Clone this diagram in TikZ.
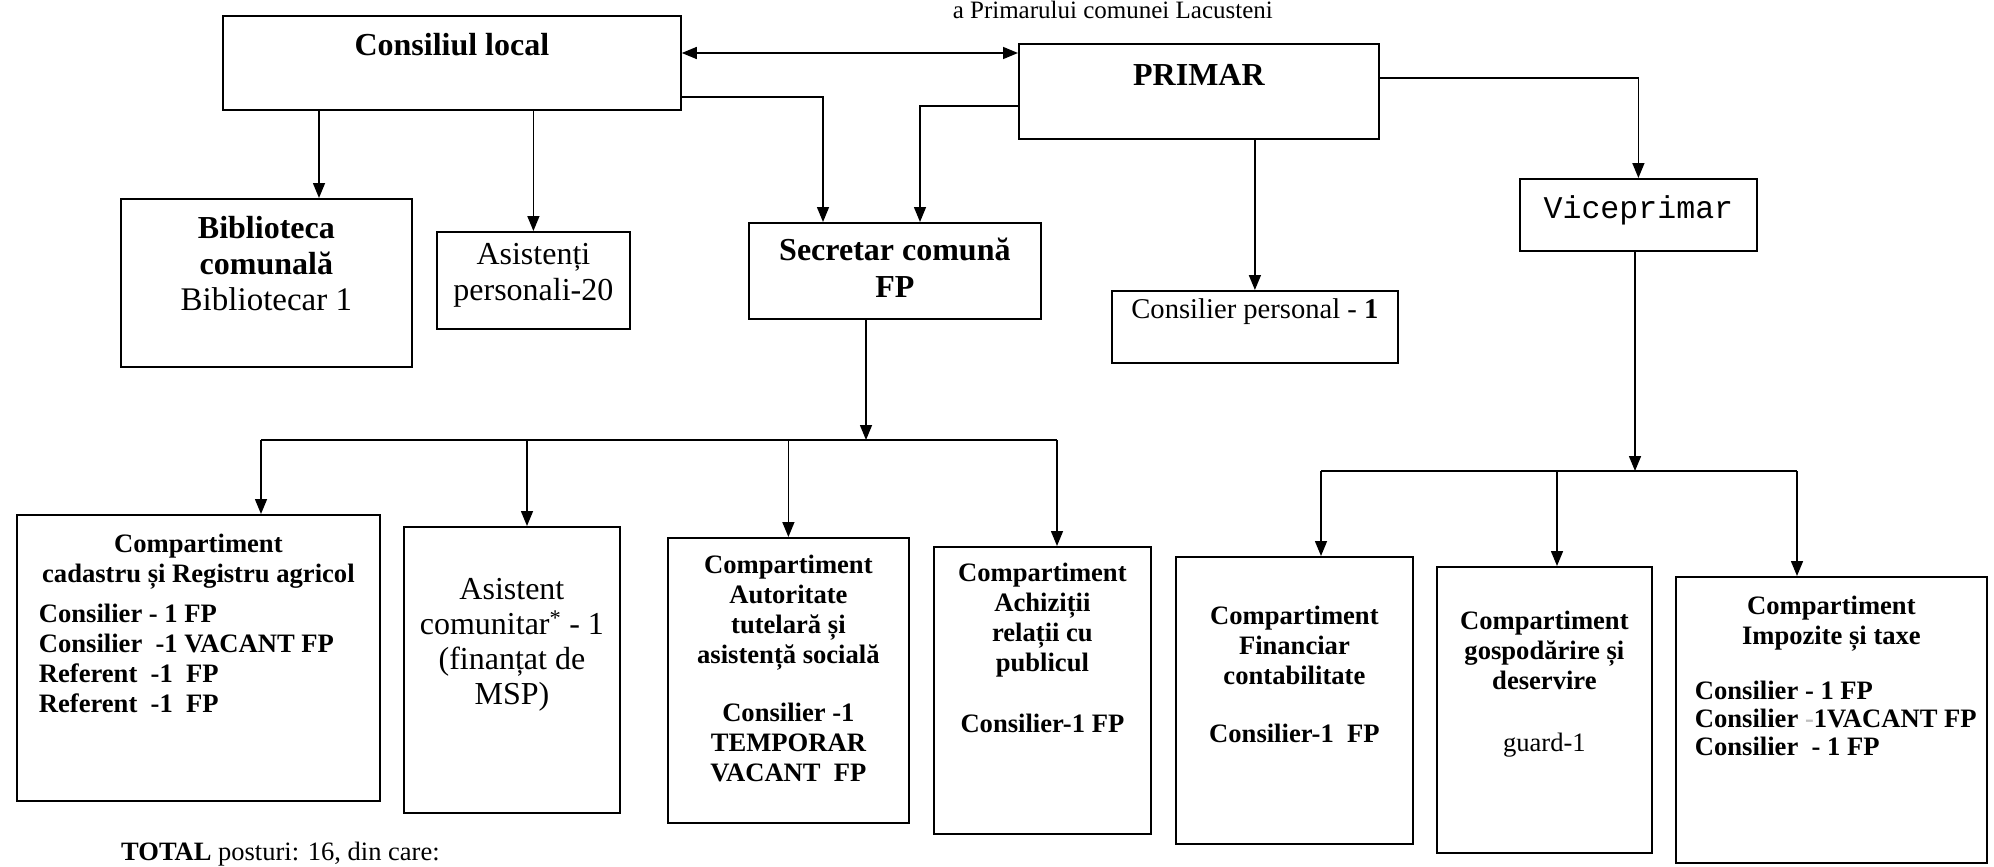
\documentclass[tikz,border=0pt]{standalone}
\usepackage{fontspec}
\setmainfont{Liberation Serif}
\setmonofont{Liberation Mono}
\usetikzlibrary{arrows.meta,calc}
\newcommand\boxtext[4]{\parbox[c][#1pt][t]{#2pt}{\vspace*{#3pt}#4}}
\newcommand\bodyb{\centering\bfseries\fontsize{26.6}{30}\selectfont}
\begin{document}
\begin{tikzpicture}[x=1pt,y=-1pt,
  box/.style={draw, line width=1.8pt, inner sep=0pt, anchor=north west},
  conn/.style={line width=1.5pt},
  arr/.style={conn, -{Triangle[length=15pt,width=12pt]}},
  darr/.style={conn, {Triangle[length=15pt,width=12pt]}-{Triangle[length=15pt,width=12pt]}},
  plain/.style={inner sep=0pt}
]
\useasboundingbox (0,0) rectangle (1994,867);

% title
\node[plain, anchor=base east, font=\fontsize{25}{30}\selectfont] (title) at (1273,19) {a Primarului comunei Lacusteni};

% upper level
\node[box] (cl) at (222,15) {\boxtext{94}{458}{17}{\centering\bfseries\fontsize{32}{36}\selectfont Consiliul local}};
\node[box] (prim) at (1018,43) {\boxtext{95}{360}{20}{\centering\bfseries\fontsize{32}{36}\selectfont PRIMAR}};

\node[box] (bib) at (120,198) {\boxtext{168}{291}{17}{\centering\fontsize{32}{36}\selectfont\textbf{Biblioteca}\\\textbf{comunală}\\{\fontsize{33}{36}\selectfont Bibliotecar 1}}};
\node[box] (asp) at (436,231) {\boxtext{97}{193}{11}{\centering\fontsize{32}{36}\selectfont Asistenți\\personali-20}};
\node[box] (sec) at (748,222) {\boxtext{96}{292}{15}{\centering\bfseries\fontsize{32}{37}\selectfont Secretar comună\\FP}};
\node[box] (cp) at (1111,290) {\boxtext{72}{286}{8}{\centering\fontsize{28.6}{32}\selectfont Consilier personal - \textbf{1}}};
\node[box] (vp) at (1519,178) {\boxtext{72}{237}{17}{\centering\ttfamily\fontsize{31.6}{36}\selectfont Viceprimar}};

% lower level
\node[box] (cad) at (16,514) {\boxtext{286}{363}{19}{\bodyb Compartiment\\cadastru și Registru agricol\par
  \vspace{10pt}\raggedright\leftskip=22pt Consilier - 1 FP\\Consilier~~-1 VACANT FP\\Referent~~-1~~FP\\Referent~~-1~~FP}};
\node[box] (asc) at (403,526) {\boxtext{286}{216}{51}{\centering\fontsize{32}{35}\selectfont Asistent\\comunitar\textsuperscript{*} - 1\\(finanțat de\\MSP)}};
\node[box] (aut) at (667,537) {\boxtext{285}{241}{17}{\bodyb Compartiment\\Autoritate\\tutelară și\\asistență socială\\[28pt]Consilier -1\\TEMPORAR\\VACANT~~FP}};
\node[box] (ach) at (933,546) {\boxtext{287}{217}{16}{\bodyb Compartiment\\Achiziții\\relații cu\\publicul\\[31pt]Consilier-1 FP}};
\node[box] (fin) at (1175,556) {\boxtext{287}{237}{49}{\bodyb Compartiment\\Financiar\\contabilitate\\[28pt]Consilier-1~~FP}};
\node[box] (gos) at (1436,566) {\boxtext{286}{215}{44}{\bodyb Compartiment\\gospodărire și\\deservire\\[32pt]{\mdseries guard-1}}};
\node[box] (imp) at (1675,576) {\boxtext{286}{311}{19}{\bodyb Compartiment\\Impozite și taxe\par
  \vspace{27pt}\raggedright\leftskip=19pt\baselineskip=28pt Consilier - 1 FP\\Consilier {\color{black!25}-}1VACANT FP\\Consilier~~- 1 FP}};

\node[plain, anchor=base west, font=\fontsize{26.5}{30}\selectfont] (total) at (121,860) {\textbf{TOTAL} posturi: 16, din care:};

% connectors, upper part
\coordinate (dy) at (0,53);
\draw[darr] (cl.east |- dy) -- (prim.west |- dy);
\coordinate (cly) at (0,97);
\coordinate (pry) at (0,106);
\coordinate (pvy) at (0,78);
\draw[arr] (cl.east |- cly) -| ($(sec.north west)+(75,0)$);
\draw[arr] (prim.west |- pry) -| ($(sec.north west)+(172,0)$);
\coordinate (xb) at (319,0);
\draw[arr] (cl.south -| xb) -- (bib.north -| xb);
\draw[arr] (cl.south -| asp.north) -- (asp.north);
\draw[arr] (prim.south -| cp.north) -- (cp.north);
\draw[arr] (prim.east |- pvy) -| (vp.north);

% left bus
\coordinate (bl) at (866,440);
\coordinate (bl1) at (261,440);
\coordinate (bl2) at (527,440);
\coordinate (bl4) at (1057,440);
\draw[arr] (sec.south -| bl) -- (bl);
\draw[conn] (bl1) -- (bl4);
\draw[arr] (bl1) -- (cad.north -| bl1);
\draw[arr] (bl2) -- (asc.north -| bl2);
\draw[arr] (aut.north |- bl1) -- (aut.north);
\draw[arr] (bl4) -- (ach.north -| bl4);

% right bus
\coordinate (br) at (1635,471);
\coordinate (br1) at (1321,471);
\coordinate (br2) at (1557,471);
\coordinate (br3) at (1797,471);
\draw[arr] (vp.south -| br) -- (br);
\draw[conn] (br1) -- (br3);
\draw[arr] (br1) -- (fin.north -| br1);
\draw[arr] (br2) -- (gos.north -| br2);
\draw[arr] (br3) -- (imp.north -| br3);
\end{tikzpicture}
\end{document}
